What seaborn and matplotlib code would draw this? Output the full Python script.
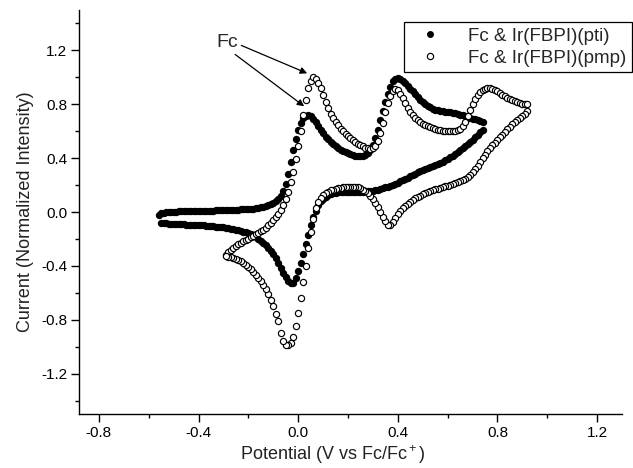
import matplotlib
matplotlib.use("Agg")
import matplotlib.pyplot as plt
from matplotlib.ticker import MultipleLocator, FormatStrFormatter
from matplotlib.lines import Line2D
import seaborn as sns
import pandas as pd

# ---------------- data ----------------
pti_fwd_E = [-0.56,-0.55,-0.54,-0.53,-0.52,-0.51,-0.50,-0.49,-0.48,-0.47,-0.46,-0.45,-0.44,-0.43,-0.42,-0.41,
             -0.40,-0.39,-0.38,-0.37,-0.36,-0.35,-0.34,-0.33,-0.32,-0.31,-0.30,-0.29,-0.28,-0.27,-0.26,-0.25,
             -0.24,-0.23,-0.22,-0.21,-0.20,-0.19,-0.18,-0.17,-0.16,-0.15,-0.14,-0.13,-0.12,-0.11,-0.10,-0.09,
             -0.08,-0.07,-0.06,-0.05,-0.04,-0.03,-0.02,-0.01,0.00,0.01,0.02,0.03,0.04,0.05,0.06,0.07,
             0.08,0.09,0.10,0.11,0.12,0.13,0.14,0.15,0.16,0.17,0.18,0.19,0.20,0.21,0.22,0.23,
             0.24,0.25,0.26,0.27,0.28,0.29,0.30,0.31,0.32,0.33,0.34,0.35,0.36,0.37,0.38,0.39,
             0.40,0.41,0.42,0.43,0.44,0.45,0.46,0.47,0.48,0.49,0.50,0.51,0.52,0.53,0.54,0.55,
             0.56,0.57,0.58,0.59,0.60,0.61,0.62,0.63,0.64,0.65,0.66,0.67,0.68,0.69,0.70,0.71,
             0.72,0.73,0.74]
pti_fwd_I = [-0.020,-0.010,-0.005,0.000,0.000,0.000,0.002,0.003,0.004,0.005,0.005,0.006,0.006,0.007,0.007,0.008,
             0.008,0.009,0.009,0.010,0.010,0.011,0.011,0.012,0.012,0.013,0.013,0.014,0.014,0.015,0.016,0.017,
             0.018,0.019,0.020,0.021,0.022,0.024,0.026,0.028,0.031,0.035,0.039,0.044,0.050,0.058,0.068,0.080,
             0.097,0.120,0.155,0.205,0.280,0.370,0.460,0.540,0.610,0.660,0.695,0.715,0.720,0.710,0.690,0.665,
             0.640,0.610,0.585,0.560,0.540,0.520,0.503,0.488,0.474,0.462,0.452,0.443,0.435,0.428,0.422,0.418,
             0.415,0.414,0.416,0.422,0.435,0.460,0.500,0.550,0.610,0.680,0.750,0.820,0.880,0.930,0.970,0.990,
             0.995,0.990,0.975,0.955,0.935,0.915,0.895,0.875,0.855,0.835,0.818,0.803,0.790,0.778,0.768,0.760,
             0.754,0.750,0.747,0.745,0.743,0.741,0.738,0.734,0.729,0.723,0.717,0.711,0.705,0.699,0.693,0.687,
             0.681,0.674,0.666]
pti_rev_E = [0.74,0.73,0.72,0.71,0.70,0.69,0.68,0.67,0.66,0.65,0.64,0.63,0.62,0.61,0.60,0.59,
             0.58,0.57,0.56,0.55,0.54,0.53,0.52,0.51,0.50,0.49,0.48,0.47,0.46,0.45,0.44,0.43,
             0.42,0.41,0.40,0.39,0.38,0.37,0.36,0.35,0.34,0.33,0.32,0.31,0.30,0.29,0.28,0.27,
             0.26,0.25,0.24,0.23,0.22,0.21,0.20,0.19,0.18,0.17,0.16,0.15,0.14,0.13,0.12,0.11,
             0.10,0.09,0.08,0.07,0.06,0.05,0.04,0.03,0.02,0.01,0.00,-0.01,-0.02,-0.03,-0.04,-0.05,
             -0.06,-0.07,-0.08,-0.09,-0.10,-0.11,-0.12,-0.13,-0.14,-0.15,-0.16,-0.17,-0.18,-0.19,-0.20,-0.21,
             -0.22,-0.23,-0.24,-0.25,-0.26,-0.27,-0.28,-0.29,-0.30,-0.31,-0.32,-0.33,-0.34,-0.35,-0.36,-0.37,
             -0.38,-0.39,-0.40,-0.41,-0.42,-0.43,-0.44,-0.45,-0.46,-0.47,-0.48,-0.49,-0.50,-0.51,-0.52,-0.53,
             -0.54,-0.55]
pti_rev_I = [0.610,0.595,0.575,0.555,0.537,0.520,0.503,0.487,0.472,0.457,0.443,0.430,0.418,0.405,0.394,0.384,
             0.375,0.366,0.358,0.351,0.344,0.337,0.330,0.322,0.314,0.305,0.295,0.285,0.275,0.265,0.255,0.245,
             0.236,0.227,0.218,0.210,0.202,0.195,0.188,0.182,0.176,0.171,0.166,0.162,0.159,0.156,0.154,0.153,
             0.152,0.152,0.152,0.152,0.152,0.152,0.152,0.151,0.150,0.149,0.147,0.144,0.140,0.134,0.126,0.115,
             0.100,0.080,0.050,0.010,-0.040,-0.100,-0.170,-0.240,-0.310,-0.380,-0.440,-0.490,-0.525,-0.530,-0.510,-0.480,
             -0.450,-0.415,-0.380,-0.345,-0.315,-0.290,-0.267,-0.247,-0.229,-0.213,-0.199,-0.187,-0.176,-0.167,-0.159,-0.152,
             -0.146,-0.141,-0.136,-0.132,-0.128,-0.124,-0.121,-0.118,-0.115,-0.113,-0.111,-0.109,-0.107,-0.105,-0.103,-0.102,
             -0.100,-0.099,-0.098,-0.097,-0.096,-0.095,-0.094,-0.093,-0.092,-0.091,-0.090,-0.089,-0.088,-0.087,-0.086,-0.085,
             -0.084,-0.083]

pmp_fwd_E = [-0.29,-0.28,-0.27,-0.26,-0.25,-0.24,-0.23,-0.22,-0.21,-0.20,-0.19,-0.18,-0.17,-0.16,-0.15,-0.14,
             -0.13,-0.12,-0.11,-0.10,-0.09,-0.08,-0.07,-0.06,-0.05,-0.04,-0.03,-0.02,-0.01,0.00,0.01,0.02,
             0.03,0.04,0.05,0.06,0.07,0.08,0.09,0.10,0.11,0.12,0.13,0.14,0.15,0.16,0.17,0.18,
             0.19,0.20,0.21,0.22,0.23,0.24,0.25,0.26,0.27,0.28,0.29,0.30,0.31,0.32,0.33,0.34,
             0.35,0.36,0.37,0.38,0.39,0.40,0.41,0.42,0.43,0.44,0.45,0.46,0.47,0.48,0.49,0.50,
             0.51,0.52,0.53,0.54,0.55,0.56,0.57,0.58,0.59,0.60,0.61,0.62,0.63,0.64,0.65,0.66,
             0.67,0.68,0.69,0.70,0.71,0.72,0.73,0.74,0.75,0.76,0.77,0.78,0.79,0.80,0.81,0.82,
             0.83,0.84,0.85,0.86,0.87,0.88,0.89,0.90,0.91,0.92]
pmp_fwd_I = [-0.320,-0.300,-0.280,-0.265,-0.250,-0.238,-0.227,-0.217,-0.207,-0.197,-0.187,-0.177,-0.166,-0.155,-0.143,-0.130,
             -0.116,-0.100,-0.083,-0.063,-0.040,-0.015,0.015,0.050,0.095,0.150,0.220,0.300,0.390,0.490,0.600,0.720,
             0.830,0.920,0.975,1.000,0.990,0.960,0.920,0.870,0.820,0.770,0.730,0.700,0.670,0.645,0.620,0.600,
             0.580,0.562,0.547,0.533,0.520,0.508,0.497,0.487,0.478,0.472,0.470,0.475,0.490,0.530,0.590,0.660,
             0.740,0.810,0.860,0.895,0.910,0.905,0.880,0.845,0.810,0.775,0.745,0.720,0.700,0.683,0.668,0.655,
             0.645,0.636,0.628,0.621,0.615,0.610,0.606,0.603,0.601,0.600,0.600,0.601,0.604,0.610,0.620,0.640,
             0.670,0.710,0.755,0.800,0.840,0.870,0.890,0.905,0.915,0.920,0.920,0.915,0.905,0.895,0.883,0.871,
             0.860,0.850,0.840,0.831,0.823,0.816,0.810,0.805,0.800,0.800]
pmp_rev_E = [0.92,0.91,0.90,0.89,0.88,0.87,0.86,0.85,0.84,0.83,0.82,0.81,0.80,0.79,0.78,0.77,
             0.76,0.75,0.74,0.73,0.72,0.71,0.70,0.69,0.68,0.67,0.66,0.65,0.64,0.63,0.62,0.61,
             0.60,0.59,0.58,0.57,0.56,0.55,0.54,0.53,0.52,0.51,0.50,0.49,0.48,0.47,0.46,0.45,
             0.44,0.43,0.42,0.41,0.40,0.39,0.38,0.37,0.36,0.35,0.34,0.33,0.32,0.31,0.30,0.29,
             0.28,0.27,0.26,0.25,0.24,0.23,0.22,0.21,0.20,0.19,0.18,0.17,0.16,0.15,0.14,0.13,
             0.12,0.11,0.10,0.09,0.08,0.07,0.06,0.05,0.04,0.03,0.02,0.01,0.00,-0.01,-0.02,-0.03,
             -0.04,-0.05,-0.06,-0.07,-0.08,-0.09,-0.10,-0.11,-0.12,-0.13,-0.14,-0.15,-0.16,-0.17,-0.18,-0.19,
             -0.20,-0.21,-0.22,-0.23,-0.24,-0.25,-0.26,-0.27,-0.28,-0.29]
pmp_rev_I = [0.750,0.730,0.715,0.700,0.685,0.670,0.652,0.633,0.614,0.595,0.575,0.555,0.535,0.515,0.495,0.475,
             0.450,0.425,0.400,0.370,0.345,0.320,0.298,0.278,0.262,0.248,0.237,0.228,0.220,0.213,0.207,0.201,
             0.196,0.190,0.185,0.180,0.174,0.168,0.162,0.155,0.148,0.140,0.131,0.122,0.112,0.101,0.089,0.076,
             0.062,0.047,0.030,0.010,-0.015,-0.045,-0.075,-0.095,-0.095,-0.070,-0.035,0.000,0.035,0.065,0.095,0.120,
             0.140,0.155,0.167,0.176,0.182,0.186,0.188,0.188,0.187,0.185,0.182,0.179,0.175,0.171,0.166,0.160,
             0.152,0.142,0.128,0.105,0.075,0.030,-0.050,-0.150,-0.270,-0.400,-0.520,-0.640,-0.750,-0.850,-0.925,-0.970,
             -0.990,-0.985,-0.955,-0.900,-0.810,-0.755,-0.700,-0.650,-0.610,-0.570,-0.540,-0.515,-0.490,-0.465,-0.445,-0.425,
             -0.405,-0.390,-0.376,-0.365,-0.356,-0.348,-0.341,-0.335,-0.331,-0.328]

labels = ["Fc & Ir(FBPI)(pti)", "Fc & Ir(FBPI)(pmp)"]
x_ticks = [-0.8, -0.4, 0.0, 0.4, 0.8, 1.2]
y_ticks = [-1.2, -0.8, -0.4, 0.0, 0.4, 0.8, 1.2]

# ---------------- tables ----------------
df_pti = pd.DataFrame({"E": pti_fwd_E + pti_rev_E, "I": pti_fwd_I + pti_rev_I})
df_pmp = pd.DataFrame({"E": pmp_fwd_E + pmp_rev_E, "I": pmp_fwd_I + pmp_rev_I})

# ---------------- style ----------------
sns.set_theme(style="ticks")
plt.rcParams["font.family"] = ["Liberation Sans", "DejaVu Sans"]
plt.rcParams["axes.unicode_minus"] = False
plt.rcParams["mathtext.default"] = "regular"

fig = plt.figure(figsize=(6.33, 4.68), dpi=100)
ax = fig.add_axes([0.1248, 0.1154, 0.9826 - 0.1248, 0.9786 - 0.1154])

sns.scatterplot(data=df_pti, x="E", y="I", ax=ax, color="black", marker="o",
                s=28, linewidth=0, legend=False, zorder=2)
sns.scatterplot(data=df_pmp, x="E", y="I", ax=ax, facecolor="white", edgecolor="black",
                marker="o", s=20, linewidth=0.85, legend=False, zorder=3)

ax.set_xlim(-0.88, 1.30)
ax.set_ylim(-1.5, 1.5)
ax.set_xticks(x_ticks)
ax.set_yticks(y_ticks)
ax.xaxis.set_minor_locator(MultipleLocator(0.2))
ax.yaxis.set_minor_locator(MultipleLocator(0.2))
ax.xaxis.set_major_formatter(FormatStrFormatter("%.1f"))
ax.yaxis.set_major_formatter(FormatStrFormatter("%.1f"))
ax.tick_params(which="major", direction="out", length=5.5, width=1, labelsize=11,
               colors="black", pad=3)
ax.tick_params(which="minor", direction="out", length=3.2, width=1, colors="black")
sns.despine(ax=ax)
for sp in ["left", "bottom"]:
    ax.spines[sp].set_color("black")
    ax.spines[sp].set_linewidth(1.0)

ax.set_xlabel("Potential (V vs Fc/Fc$^+$)", fontsize=13, color="#222222")
ax.set_ylabel("Current (Normalized Intensity)", fontsize=13, color="#222222", labelpad=5)
ax.xaxis.set_label_coords(0.468, -0.072)

# annotation "Fc" with two arrows
arrow_kw = dict(arrowstyle="-|>", color="black", lw=0.9, mutation_scale=10, shrinkA=0, shrinkB=0)
ax.annotate("Fc", xy=(0.036, 1.03), xytext=(-0.285, 1.26), fontsize=14, ha="center", va="center",
            arrowprops=dict(arrow_kw, relpos=(1.0, 0.4)))
ax.annotate("", xy=(0.024, 0.785), xytext=(-0.253, 1.17), arrowprops=arrow_kw)

# legend
handles = [
    Line2D([], [], linestyle="none", marker="o", markersize=5, markerfacecolor="black",
           markeredgecolor="black", markeredgewidth=0),
    Line2D([], [], linestyle="none", marker="o", markersize=4.5, markerfacecolor="white",
           markeredgecolor="black", markeredgewidth=0.85),
]
leg = ax.legend(handles, labels, loc="upper right", bbox_to_anchor=(0.998, 0.953),
                bbox_transform=fig.transFigure, fontsize=13.5, frameon=True, fancybox=False,
                framealpha=1, edgecolor="black", borderpad=0.3, handletextpad=0.9,
                handlelength=2.2, labelspacing=0.25, borderaxespad=0)
leg.get_frame().set_linewidth(0.9)

fig.savefig("out.png", dpi=100)
